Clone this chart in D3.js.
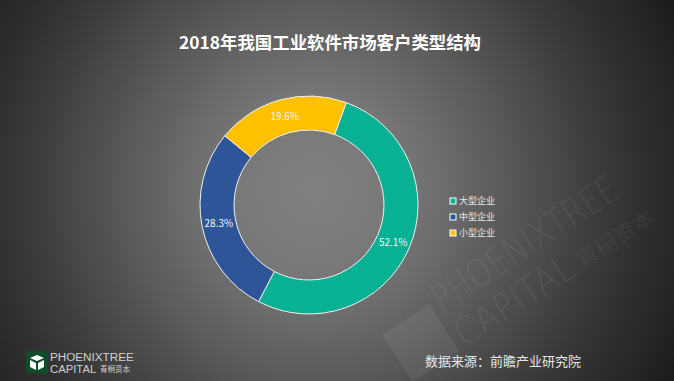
<!DOCTYPE html>
<html><head><meta charset="utf-8">
<script src="https://cdn.jsdelivr.net/npm/d3@7"></script>
<style>html,body{margin:0;padding:0;background:#333;}svg{display:block;}</style>
</head><body>
<svg id="chart" width="674" height="381"></svg>
<script>
const title = "2018年我国工业软件市场客户类型结构";
const categories = ["大型企业", "中型企业", "小型企业"];
const values = [52.1, 28.3, 19.6];
const colors = ["#08B194", "#2E5597", "#FFC000"];
const source = "数据来源：前瞻产业研究院";

const W = 674, H = 381;
const svg = d3.select("#chart");
const defs = svg.append("defs");
const g0 = defs.append("radialGradient").attr("id","bg").attr("gradientUnits","userSpaceOnUse")
  .attr("cx",315).attr("cy",190).attr("r",420);
[[0,"#808080"],[0.22,"#777777"],[0.45,"#5a5a5a"],[0.7,"#383838"],[1,"#181818"]].forEach(s=>
  g0.append("stop").attr("offset",s[0]).attr("stop-color",s[1]));
svg.append("rect").attr("width",W).attr("height",H).attr("fill","url(#bg)");

// watermark
const wm = svg.append("g").attr("transform","translate(445,318) rotate(-33)").attr("opacity",0.06).attr("fill","#ffffff");
wm.append("text").attr("x",0).attr("y",-6).attr("font-family","DejaVu Sans, sans-serif").attr("font-weight",200)
  .attr("font-size",38).attr("textLength",215).attr("lengthAdjust","spacingAndGlyphs").text("PHOENIXTREE");
wm.append("text").attr("x",0).attr("y",36).attr("font-family","DejaVu Sans, sans-serif").attr("font-weight",200)
  .attr("font-size",38).attr("textLength",135).attr("lengthAdjust","spacingAndGlyphs").text("CAPITAL");
wm.append("text").attr("x",142).attr("y",34).attr("font-family","Noto Sans CJK SC, sans-serif").attr("font-weight",300)
  .attr("font-size",22).text("青桐资本");
wm.append("rect").attr("x",-62).attr("y",-20).attr("width",56).attr("height",56);

// title
svg.append("text").attr("x",330).attr("y",49).attr("text-anchor","middle")
  .attr("font-family","Noto Sans CJK SC, sans-serif").attr("font-weight","bold")
  .attr("font-size",17.4).attr("fill","#ffffff").text(title);

// donut
const cx = 309, cy = 205;
const pie = d3.pie().sort(null).value(d=>d)
  .startAngle(20*Math.PI/180).endAngle(380*Math.PI/180);
const arc = d3.arc().innerRadius(75).outerRadius(109);
const arcs = pie(values);
const dg = svg.append("g").attr("transform",`translate(${cx},${cy})`);
dg.selectAll("path").data(arcs).join("path")
  .attr("d",arc).attr("fill",(d,i)=>colors[i]).attr("stroke","#f0f0f0").attr("stroke-width",1);
dg.selectAll("text").data(arcs).join("text")
  .attr("transform",d=>`translate(${arc.centroid(d)})`)
  .attr("text-anchor","middle").attr("dy","0.35em")
  .attr("font-family","Noto Sans CJK SC, sans-serif").attr("font-size",10)
  .attr("fill","#f4f4f4").text(d=>d.value.toFixed(1)+"%");

// legend
const lg = svg.append("g").attr("transform","translate(450,201)");
const items = lg.selectAll("g").data(categories).join("g")
  .attr("transform",(d,i)=>`translate(0,${i*16})`);
items.append("rect").attr("x",0).attr("y",-3).attr("width",6).attr("height",6)
  .attr("fill",(d,i)=>colors[i]).attr("stroke","#ffffff").attr("stroke-width",1);
items.append("text").attr("x",9).attr("y",0).attr("dy","0.35em")
  .attr("font-family","Noto Sans CJK SC, sans-serif").attr("font-size",9)
  .attr("fill","#e6e6e6").text(d=>d);

// source
svg.append("text").attr("x",425).attr("y",366)
  .attr("font-family","Noto Sans CJK SC, sans-serif").attr("font-size",13)
  .attr("fill","#e8e8e8").text(source);

// logo
const logo = svg.append("g").attr("transform","translate(26,351)");
logo.append("rect").attr("width",22).attr("height",22).attr("fill","#124a2c");
logo.append("path").attr("d","M4,7 L11,4 L18,7 L11,10 Z M4,9 L10,12 L10,19 L4,16 Z M18,9 L12,12 L12,19 L18,16 Z")
  .attr("fill","#ffffff");
logo.append("text").attr("x",24).attr("y",9.5).attr("font-family","Liberation Sans, Arial, sans-serif")
  .attr("font-size",11.7).attr("fill","#d0d0d0").text("PHOENIXTREE");
logo.append("text").attr("x",24).attr("y",21.5).attr("font-family","Liberation Sans, Arial, sans-serif")
  .attr("font-size",11.3).attr("fill","#d0d0d0").text("CAPITAL");
logo.append("text").attr("x",74).attr("y",21).attr("font-family","Noto Sans CJK SC, sans-serif")
  .attr("font-size",7.5).attr("fill","#d0d0d0").text("青桐资本");
</script>
</body></html>
